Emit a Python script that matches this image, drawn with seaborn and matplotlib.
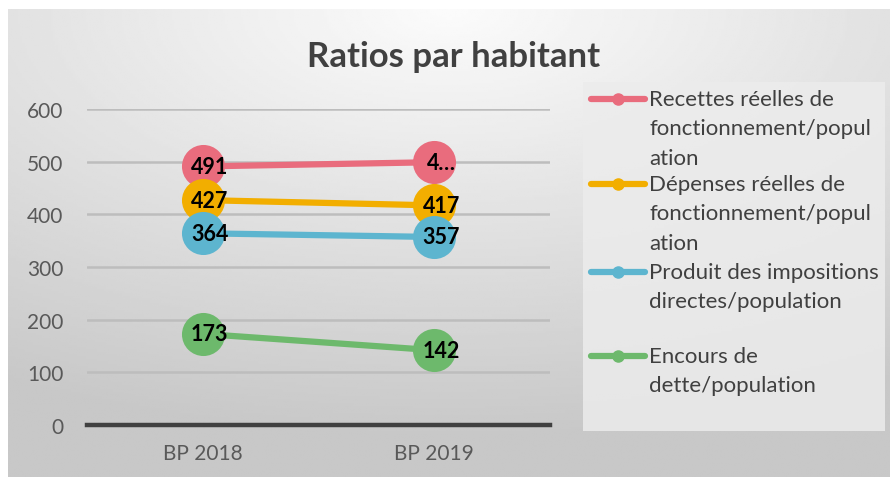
import numpy as np
import pandas as pd
import matplotlib
matplotlib.use("Agg")
import matplotlib.pyplot as plt
from matplotlib.lines import Line2D
import seaborn as sns

# Données
periodes = ["BP 2018", "BP 2019"]
series = [
    "Recettes réelles de\nfonctionnement/popul\nation",
    "Dépenses réelles de\nfonctionnement/popul\nation",
    "Produit des impositions\ndirectes/population",
    "Encours de\ndette/population",
]
recettes = [491, 499]
depenses = [427, 417]
impositions = [364, 357]
encours = [173, 142]
etiquettes = [["491", "4…"], ["427", "417"], ["364", "357"], ["173", "142"]]
couleurs = ["#E96C7D", "#F2AE00", "#5DB5CF", "#6DB96C"]

valeurs = [recettes, depenses, impositions, encours]
df = pd.DataFrame({
    "periode": periodes * len(series),
    "valeur": [v for vals in valeurs for v in vals],
    "serie": [s for s in series for _ in periodes],
})

sns.set_theme(style="white")
plt.rcParams["font.family"] = ["Lato", "DejaVu Sans"]

fig = plt.figure(figsize=(8.9, 4.81), dpi=100)

# fond dégradé du graphique
bg = fig.add_axes([8 / 890, 3 / 481, 882 / 890, 468 / 481])
yy, xx = np.mgrid[0:1:200j, 0:1:400j]
r = np.sqrt(((xx - 0.5) * 1.0) ** 2 + (yy * 1.1) ** 2)
grad = 0.985 - 0.2 * np.clip(r, 0, 1)
bg.imshow(grad, cmap="gray", vmin=0, vmax=1, aspect="auto", extent=[0, 1, 0, 1], origin="upper")
bg.set_axis_off()

# cadre de la légende
lg = fig.add_axes([583 / 890, 49 / 481, 302 / 890, 349 / 481])
lg.set_facecolor("#ececec")
lg.patch.set_alpha(0.85)
lg.set_xlim(583, 885)
lg.set_ylim(432, 83)
lg.set_xticks([])
lg.set_yticks([])
for s in lg.spines.values():
    s.set_visible(False)

ax = fig.add_axes([87 / 890, 55 / 481, 463 / 890, 316 / 481])
ax.patch.set_alpha(0)

sns.lineplot(data=df, x="periode", y="valeur", hue="serie", palette=couleurs,
             marker="o", markersize=31, markeredgewidth=0, linewidth=4.5,
             legend=False, ax=ax)

for i, labs in enumerate(etiquettes):
    for j, lab in enumerate(labs):
        ax.annotate(lab, (j, valeurs[i][j]), xytext=(5, 0), textcoords="offset points",
                    ha="center", va="center", fontsize=15.5, fontweight="bold", color="black",
                    zorder=10)

ax.set_xlim(-0.5, 1.5)
ax.set_ylim(0, 600)
ax.set_yticks(range(0, 601, 100))
ax.yaxis.grid(True, color="#bdbdbd", linewidth=1.8)
ax.set_axisbelow(True)
for name in ["left", "right", "top"]:
    ax.spines[name].set_visible(False)
ax.spines["bottom"].set_color("#404040")
ax.spines["bottom"].set_linewidth(3.2)
ax.tick_params(axis="both", length=0, labelsize=15, labelcolor="#595959")
ax.tick_params(axis="x", pad=13)
ax.tick_params(axis="y", pad=17)
ax.set_xlabel("")
ax.set_ylabel("")

fig.text(0.51, 1 - 67 / 481, "Ratios par habitant", ha="center", va="baseline",
         fontsize=25, fontweight="bold", color="#404040")

# légende
pos_y = [100, 185, 273, 357]
for y, nom, c in zip(pos_y, series, couleurs):
    lg.add_line(Line2D([591, 645], [y, y], color=c, linewidth=4.5))
    lg.plot([618], [y], marker="o", markersize=8, color=c)
    lg.text(649, y - 10, nom, ha="left", va="top", fontsize=16, color="#404040",
            linespacing=1.58)

fig.savefig("out.png", dpi=100)
